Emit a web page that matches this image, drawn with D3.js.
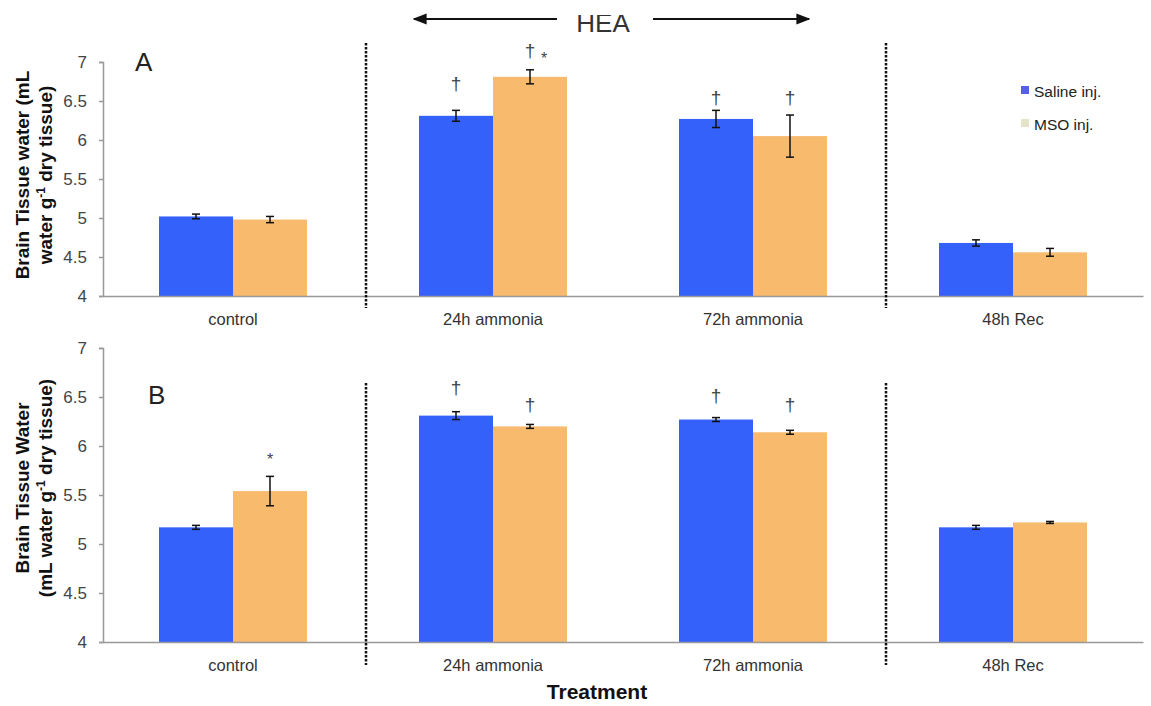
<!DOCTYPE html>
<html><head><meta charset="utf-8">
<script src="https://cdn.jsdelivr.net/npm/d3@7"></script>
<style>body{margin:0;background:#fff}svg{display:block}text{font-family:"Liberation Sans",Arial,sans-serif}</style>
</head><body>
<svg id="chart" width="1151" height="706"></svg>
<script>
const categories = ["control", "24h ammonia", "72h ammonia", "48h Rec"];
const seriesNames = ["Saline inj.", "MSO inj."];
const yTicks = [4, 4.5, 5, 5.5, 6, 6.5, 7];

// Panel A
const salineA = [5.02, 6.31, 6.27, 4.68];
const salineAErr = [0.03, 0.07, 0.11, 0.04];
const msoA = [4.98, 6.81, 6.05, 4.56];
const msoAErr = [0.04, 0.09, 0.27, 0.05];
const salineAMark = ["", "†", "†", ""];
const salineAMarkAt = [null, 6.73, 6.55, null];
const msoAMark = ["", "†", "†", ""];
const msoAMarkAt = [null, 7.15, 6.55, null];
const msoAStar = [null, 7.1, null, null];

// Panel B
const salineB = [5.17, 6.31, 6.27, 5.17];
const salineBErr = [0.02, 0.04, 0.02, 0.02];
const msoB = [5.54, 6.20, 6.14, 5.22];
const msoBErr = [0.15, 0.02, 0.02, 0.01];
const salineBMark = ["", "†", "†", ""];
const salineBMarkAt = [null, 6.60, 6.52, null];
const msoBMark = ["*", "†", "†", ""];
const msoBMarkAt = [5.86, 6.42, 6.42, null];

const colors = ["#3361F9", "#F8BA6D"];
const svg = d3.select("#chart");

const x0 = d3.scaleBand().domain(categories).range([103, 1143]).paddingInner(0).paddingOuter(0);
const x1 = d3.scaleBand().domain(seriesNames).range([56, 204]);

function panel(cfg) {
  const y = d3.scaleLinear().domain([4, 7]).range([cfg.bottom, cfg.top]);
  const g = svg.append("g");
  // y axis
  const ya = g.append("g").attr("transform", "translate(103,0)")
    .call(d3.axisLeft(y).tickValues(yTicks).tickSize(4).tickPadding(12).tickFormat(d => String(d)));
  ya.select(".domain").attr("stroke", "#999").attr("stroke-width", 1.5);
  ya.selectAll(".tick line").attr("stroke", "#999").attr("stroke-width", 1.5);
  ya.selectAll("text").attr("font-size", 17).attr("fill", "#444");
  // bars
  const sets = [[cfg.sal, cfg.salErr], [cfg.mso, cfg.msoErr]];
  sets.forEach((s, si) => {
    g.selectAll(null).data(categories).enter().append("rect")
      .attr("x", c => x0(c) + x1(seriesNames[si]))
      .attr("width", x1.bandwidth())
      .attr("y", (c, i) => y(s[0][i]))
      .attr("height", (c, i) => y(4) - y(s[0][i]))
      .attr("fill", colors[si]);
  });
  // x axis
  const xa = g.append("g").attr("transform", `translate(0,${cfg.bottom})`)
    .call(d3.axisBottom(x0).tickSize(0).tickPadding(17));
  xa.select(".domain").attr("stroke", "#999").attr("stroke-width", 1.5);
  xa.selectAll("text").attr("font-size", 16.5).attr("fill", "#333");
  // error bars
  sets.forEach((s, si) => {
    categories.forEach((c, i) => {
      const cx = x0(c) + x1(seriesNames[si]) + x1.bandwidth() / 2;
      const hi = y(s[0][i] + s[1][i]), lo = y(s[0][i] - s[1][i]);
      g.append("line").attr("x1", cx).attr("x2", cx).attr("y1", hi).attr("y2", lo).attr("stroke", "#111").attr("stroke-width", 1.5);
      [hi, lo].forEach(v => g.append("line").attr("x1", cx - 4).attr("x2", cx + 4).attr("y1", v).attr("y2", v).attr("stroke", "#111").attr("stroke-width", 1.5));
    });
  });
  // annotations
  const marks = [[cfg.salMark, cfg.salMarkAt], [cfg.msoMark, cfg.msoMarkAt]];
  marks.forEach((m, si) => {
    categories.forEach((c, i) => {
      if (!m[0][i]) return;
      const cx = x0(c) + x1(seriesNames[si]) + x1.bandwidth() / 2;
      g.append("text").attr("x", cx).attr("y", y(m[1][i]))
        .attr("text-anchor", "middle").attr("dominant-baseline", "central")
        .attr("font-size", m[0][i] === "*" ? 16 : 19).attr("fill", "#444").text(m[0][i]);
    });
  });
  if (cfg.msoStar) categories.forEach((c, i) => {
    if (cfg.msoStar[i] == null) return;
    const cx = x0(c) + x1(seriesNames[1]) + x1.bandwidth() / 2;
    g.append("text").attr("x", cx + 14).attr("y", y(cfg.msoStar[i]) + 4)
      .attr("text-anchor", "middle").attr("dominant-baseline", "central")
      .attr("font-size", 16).attr("fill", "#444").text("*");
  });
  // dotted separators
  [categories[1], categories[3]].forEach(c => {
    const xx = x0(c) + 3;
    g.append("line").attr("x1", xx).attr("x2", xx).attr("y1", cfg.sepTop).attr("y2", cfg.sepBottom)
      .attr("stroke", "#111").attr("stroke-width", 2.5).attr("stroke-dasharray", "2.5,1.5");
  });
  // panel letter
  g.append("text").attr("x", cfg.letterX).attr("y", cfg.letterY).attr("font-size", 26).attr("fill", "#222").text(cfg.letter);
  // y label
  const yl = g.append("text").attr("transform", `translate(0,${cfg.labelCY}) rotate(-90)`)
    .attr("text-anchor", "middle").attr("font-weight", "bold").attr("font-size", 19).attr("fill", "#111");
  cfg.label.forEach((ln, li) => {
    const t = yl.append("tspan").attr("x", 0).attr("y", cfg.labelX[li]);
    ln.forEach(part => {
      const ts = t.append("tspan").text(part[0]);
      if (part[1]) ts.attr("font-size", 12).attr("dy", -7);
      if (part[2]) ts.attr("dy", 7);
    });
  });
  return y;
}

panel({
  top: 62, bottom: 296, sal: salineA, salErr: salineAErr, mso: msoA, msoErr: msoAErr,
  salMark: salineAMark, salMarkAt: salineAMarkAt, msoMark: msoAMark, msoMarkAt: msoAMarkAt, msoStar: msoAStar,
  sepTop: 43, sepBottom: 308, letter: "A", letterX: 135, letterY: 71, labelCY: 175, labelX: [29, 52],
  label: [[["Brain Tissue water (mL"]], [["water g"], ["-1", true], [" dry tissue)", false, true]]]
});
panel({
  top: 348, bottom: 642, sal: salineB, salErr: salineBErr, mso: msoB, msoErr: msoBErr,
  salMark: salineBMark, salMarkAt: salineBMarkAt, msoMark: msoBMark, msoMarkAt: msoBMarkAt, msoStar: null,
  sepTop: 383, sepBottom: 665, letter: "B", letterX: 148, letterY: 404, labelCY: 488, labelX: [29, 52],
  label: [[["Brain Tissue Water"]], [["(mL water g"], ["-1", true], [" dry tissue)", false, true]]]
});

// x title
svg.append("text").attr("x", 597).attr("y", 699).attr("text-anchor", "middle")
  .attr("font-weight", "bold").attr("font-size", 21).attr("fill", "#111").text("Treatment");

// HEA header with arrows
svg.append("defs").html(`<clipPath id="hc"><rect x="0" y="15" width="1151" height="100"/></clipPath>
<marker id="ah" viewBox="0 0 10 10" refX="9" refY="5" markerWidth="7" markerHeight="7" orient="auto-start-reverse"><path d="M0,1 L10,5 L0,9 Z" fill="#111"/></marker>`);
svg.append("text").attr("x", 603).attr("y", 32).attr("text-anchor", "middle").attr("font-size", 26)
  .attr("fill", "#333").attr("clip-path", "url(#hc)").text("HEA");
svg.append("line").attr("x1", 414).attr("x2", 557).attr("y1", 19).attr("y2", 19).attr("stroke", "#111").attr("stroke-width", 2).attr("marker-start", "url(#ah)");
svg.append("line").attr("x1", 653).attr("x2", 809).attr("y1", 19).attr("y2", 19).attr("stroke", "#111").attr("stroke-width", 2).attr("marker-end", "url(#ah)");

// legend
const leg = svg.append("g");
seriesNames.forEach((s, i) => {
  leg.append("rect").attr("x", 1021).attr("y", 86 + i * 33).attr("width", 8).attr("height", 8)
    .attr("fill", i === 0 ? "#5560E8" : "#E6E4C8");
  leg.append("text").attr("x", 1034).attr("y", 97 + i * 33).attr("font-size", 15.5).attr("fill", "#222").text(s);
});
</script>
</body></html>
